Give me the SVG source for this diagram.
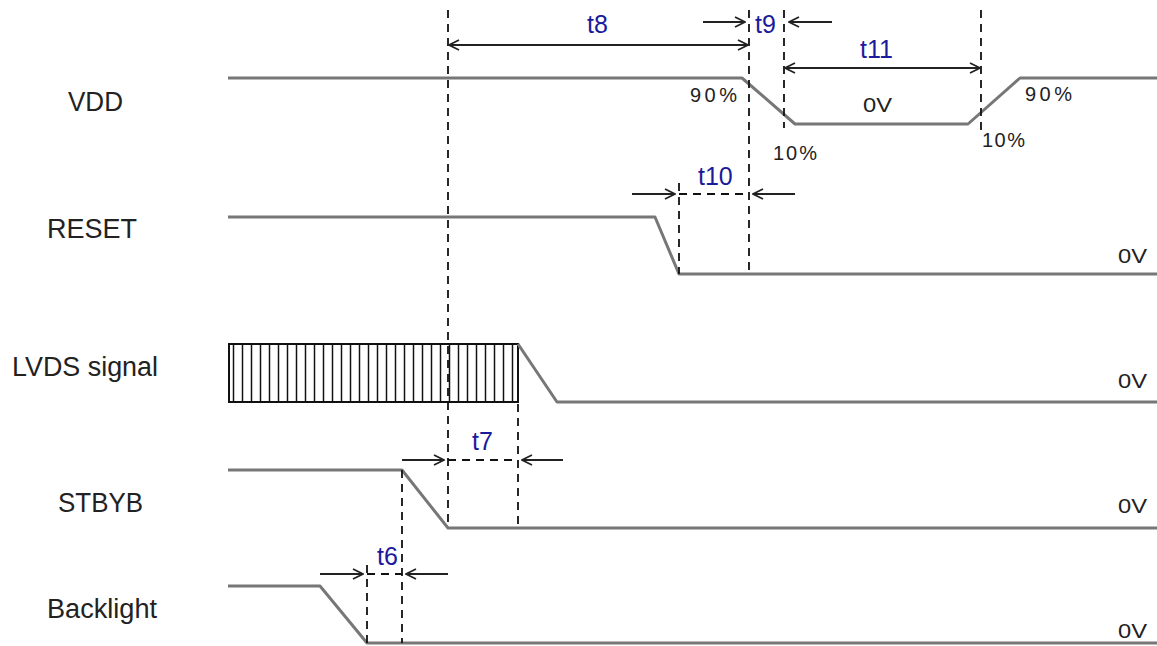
<svg xmlns="http://www.w3.org/2000/svg" width="1157" height="646" viewBox="0 0 1157 646">
<defs>
<marker id="ah" viewBox="0 0 12 12" refX="11" refY="6" markerWidth="12" markerHeight="12" markerUnits="userSpaceOnUse" orient="auto-start-reverse">
<path d="M1,1 L11,6 L1,11" fill="none" stroke="#222" stroke-width="1.8"/>
</marker>
<pattern id="stripes" x="229" y="0" width="9" height="10" patternUnits="userSpaceOnUse">
<line x1="4.5" y1="0" x2="4.5" y2="10" stroke="#111" stroke-width="1.5"/>
</pattern>
</defs>
<style>
.sig{fill:none;stroke:#777;stroke-width:3;stroke-linejoin:round}
.dash{fill:none;stroke:#111;stroke-width:1.8;stroke-dasharray:8,6}
.arr{fill:none;stroke:#222;stroke-width:2}
.lbl{font-family:"Liberation Sans",Arial,sans-serif;font-size:27px;fill:#222}
.t{font-family:"Liberation Sans",Arial,sans-serif;font-size:25px;fill:#1a1a9c}
.pct{font-family:"Liberation Sans",Arial,sans-serif;font-size:20px;fill:#222}
</style>
<rect width="1157" height="646" fill="#fff"/>
<g id="labels">
<text class="lbl" x="68" y="111" textLength="55" lengthAdjust="spacingAndGlyphs">VDD</text>
<text class="lbl" x="47" y="238" textLength="90" lengthAdjust="spacingAndGlyphs">RESET</text>
<text class="lbl" x="12" y="376" textLength="146" lengthAdjust="spacingAndGlyphs">LVDS signal</text>
<text class="lbl" x="58" y="512" textLength="85" lengthAdjust="spacingAndGlyphs">STBYB</text>
<text class="lbl" x="47" y="618" textLength="110" lengthAdjust="spacingAndGlyphs">Backlight</text>
</g>
<g id="vdd">
<polyline class="sig" points="228,78 742,78 795,124 968,124 1020,78 1157,78"/>
<text class="pct" x="690" y="102" textLength="47">90%</text>
<text class="pct" x="773" y="160" textLength="44">10%</text>
<text class="pct" x="863" y="112" textLength="29" lengthAdjust="spacingAndGlyphs">0V</text>
<text class="pct" x="982" y="147" textLength="43">10%</text>
<text class="pct" x="1025" y="101" textLength="47">90%</text>
</g>
<g id="reset">
<polyline class="sig" points="228,217 655,217 679,274 1157,274"/>
<text class="pct" x="1118" y="263" textLength="29" lengthAdjust="spacingAndGlyphs">0V</text>
</g>
<g id="lvds">
<rect x="229" y="344" width="289" height="58" fill="url(#stripes)" stroke="#111" stroke-width="2"/>
<polyline class="sig" points="518,344 557,402 1157,402"/>
<text class="pct" x="1118" y="388" textLength="29" lengthAdjust="spacingAndGlyphs">0V</text>
</g>
<g id="stbyb">
<polyline class="sig" points="228,470 402,470 448,528 1157,528"/>
<text class="pct" x="1118" y="513" textLength="29" lengthAdjust="spacingAndGlyphs">0V</text>
</g>
<g id="backlight">
<polyline class="sig" points="228,586 320,586 367,643 1157,643"/>
<text class="pct" x="1118" y="638" textLength="29" lengthAdjust="spacingAndGlyphs">0V</text>
</g>
<g id="connectors">
<line class="dash" x1="448" y1="10" x2="448" y2="528"/>
<line class="dash" x1="749" y1="10" x2="749" y2="274"/>
<line class="dash" x1="784" y1="10" x2="784" y2="128"/>
<line class="dash" x1="981" y1="10" x2="981" y2="130"/>
<line class="dash" x1="679" y1="183" x2="679" y2="274"/>
<line class="dash" x1="679" y1="194" x2="749" y2="194"/>
<line class="dash" x1="518" y1="404" x2="518" y2="528"/>
<line class="dash" x1="448" y1="460" x2="518" y2="460"/>
<line class="dash" x1="402" y1="470" x2="402" y2="643"/>
<line class="dash" x1="367" y1="565" x2="367" y2="643"/>
<line class="dash" x1="367" y1="574" x2="402" y2="574"/>
<line class="arr" x1="449" y1="45" x2="748" y2="45" marker-start="url(#ah)" marker-end="url(#ah)"/>
<line class="arr" x1="785" y1="68" x2="980" y2="68" marker-start="url(#ah)" marker-end="url(#ah)"/>
<line class="arr" x1="703" y1="22" x2="745" y2="22" marker-end="url(#ah)"/>
<line class="arr" x1="832" y1="22" x2="789" y2="22" marker-end="url(#ah)"/>
<line class="arr" x1="632" y1="194" x2="675" y2="194" marker-end="url(#ah)"/>
<line class="arr" x1="795" y1="194" x2="753" y2="194" marker-end="url(#ah)"/>
<line class="arr" x1="402" y1="460" x2="444" y2="460" marker-end="url(#ah)"/>
<line class="arr" x1="563" y1="460" x2="522" y2="460" marker-end="url(#ah)"/>
<line class="arr" x1="320" y1="574" x2="363" y2="574" marker-end="url(#ah)"/>
<line class="arr" x1="448" y1="574" x2="406" y2="574" marker-end="url(#ah)"/>
</g>
<g id="timing-labels">
<text class="t" x="587" y="33">t8</text>
<text class="t" x="755" y="33">t9</text>
<text class="t" x="860" y="58">t11</text>
<text class="t" x="698" y="185">t10</text>
<text class="t" x="472" y="450">t7</text>
<text class="t" x="377" y="565">t6</text>
</g>
</svg>
